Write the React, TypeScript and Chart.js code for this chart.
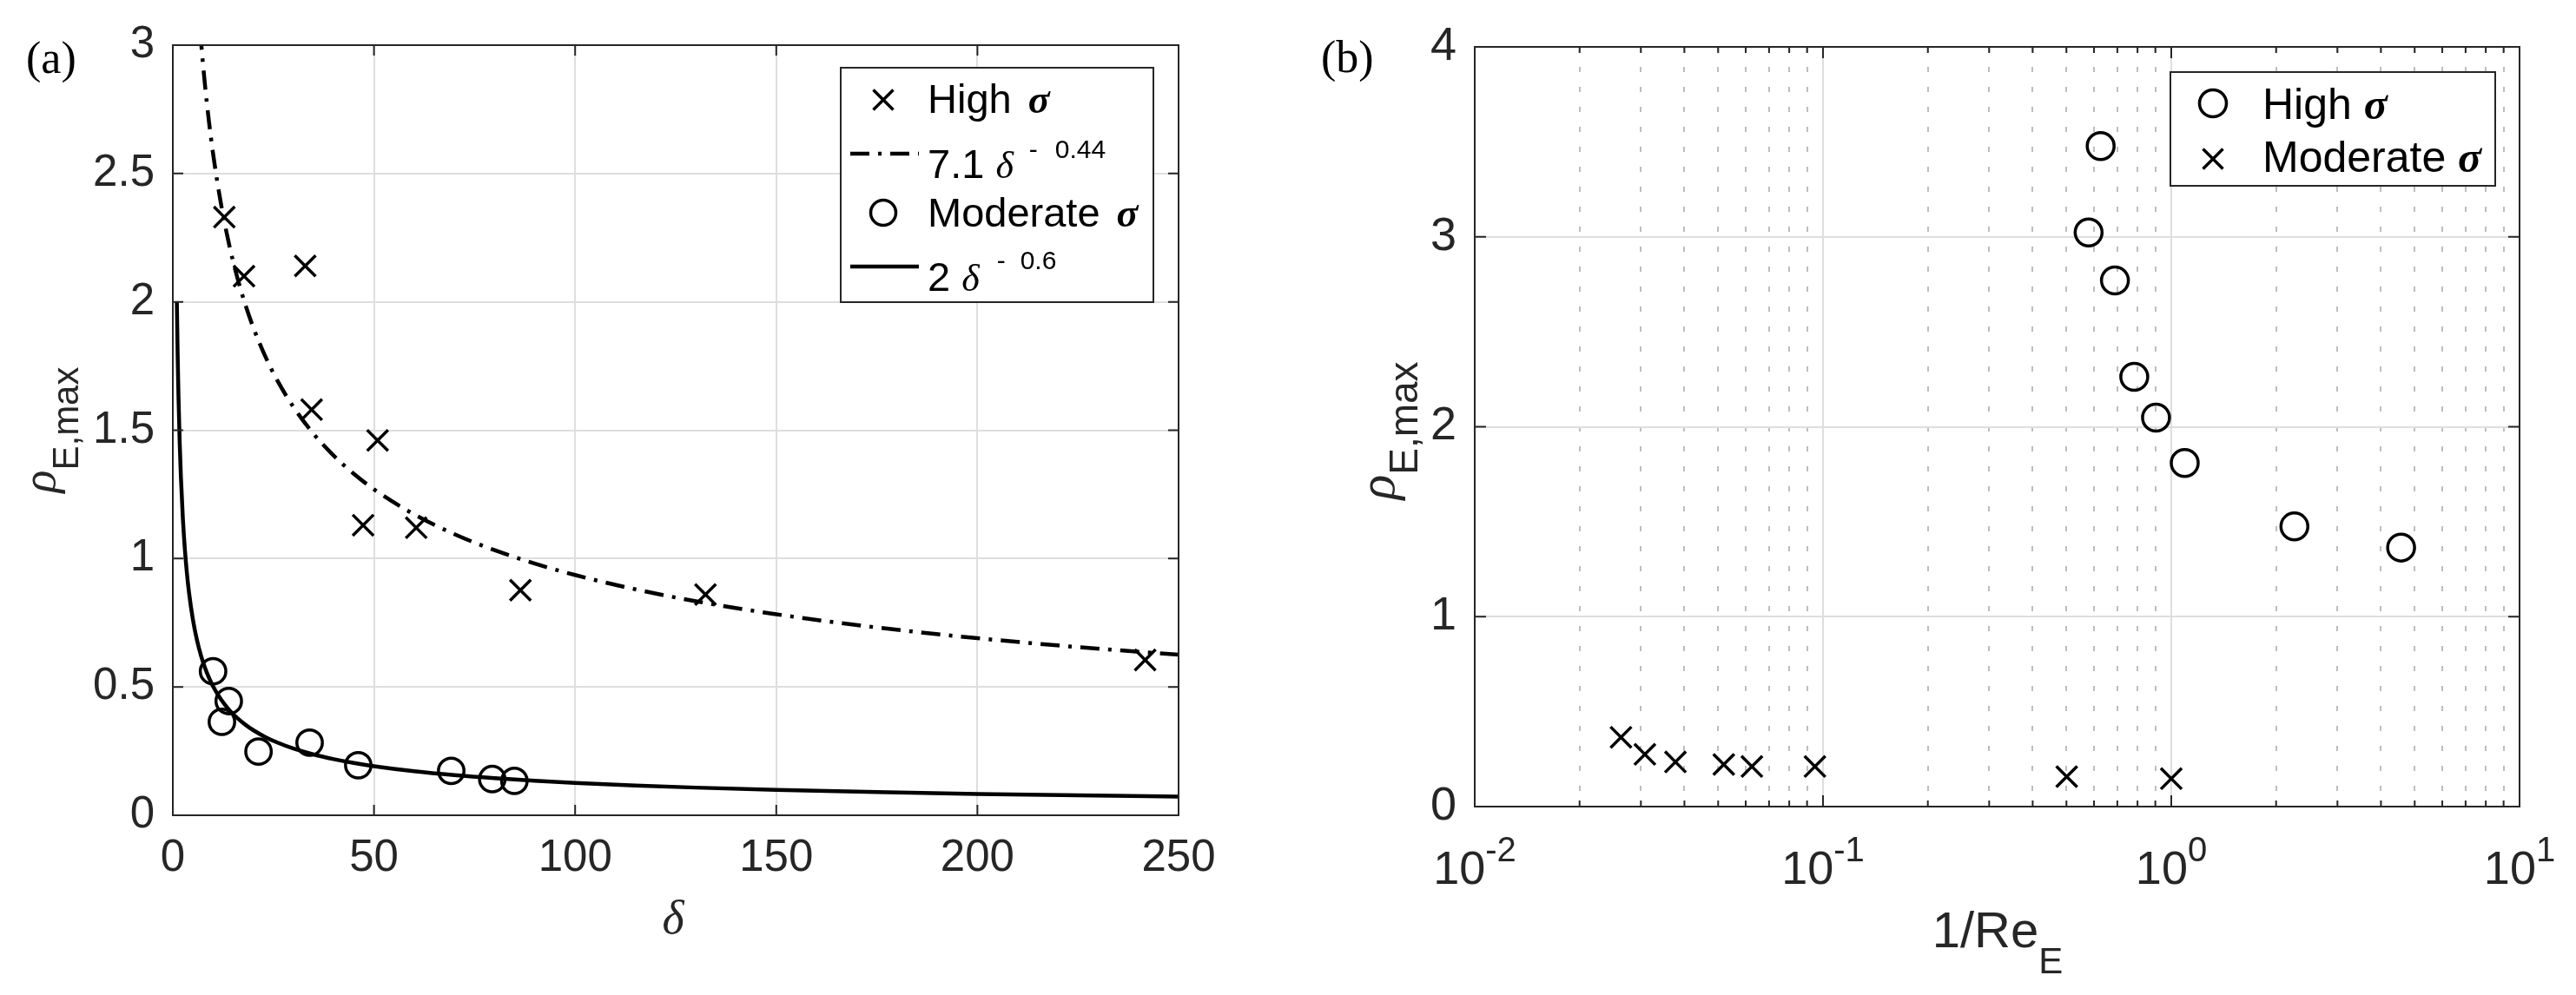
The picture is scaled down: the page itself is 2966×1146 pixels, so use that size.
import { useEffect, useRef } from "react";
import { Chart, registerables } from "chart.js";

Chart.register(...registerables);

const SANS = "'Liberation Sans', Arial, Helvetica, sans-serif";
const SERIF = "'Liberation Serif', 'Times New Roman', serif";
const AXIS_COLOR = "#262626";
const GRID_MAJOR = "#dedede";
const GRID_MINOR = "#bdbdbd";

// ---------------- Panel (a) data ----------------
const A_HIGH_DELTA = [12.8, 17.7, 32.9, 34.5, 50.9, 47.3, 60.5, 86.4, 132.4, 241.7];
const A_HIGH_RHO = [2.33, 2.1, 2.14, 1.58, 1.46, 1.13, 1.12, 0.877, 0.86, 0.605];
const A_MOD_DELTA = [10.0, 13.9, 12.2, 21.3, 34.0, 46.1, 69.2, 79.4, 84.9];
const A_MOD_RHO = [0.561, 0.445, 0.364, 0.248, 0.283, 0.195, 0.173, 0.141, 0.134];
// fitted power laws shown in the legend: a * delta^b
const FIT_HIGH_COEF = 7.1;
const FIT_HIGH_EXP = -0.44;
const FIT_MOD_COEF = 2;
const FIT_MOD_EXP = -0.6;
const FIT_DELTA = [1, 1.2, 1.4, 1.7, 2, 2.5, 3, 3.5, 4, 5, 6, 7, 8, 9, 10, 12, 14, 16, 18, 20, 23, 26, 30, 35, 40, 45, 50, 60, 70, 80, 90, 100, 115, 130, 150, 175, 200, 225, 250];
const A_X_TICKS = [0, 50, 100, 150, 200, 250];
const A_Y_TICKS = [0, 0.5, 1, 1.5, 2, 2.5, 3];

// ---------------- Panel (b) data ----------------
const B_HIGH_X = [0.579, 0.627, 0.689, 0.783, 0.904, 1.093, 2.257, 4.57];
const B_HIGH_RHO = [3.023, 3.478, 2.77, 2.263, 2.048, 1.809, 1.475, 1.364];
const B_MOD_X = [0.0263, 0.0308, 0.0377, 0.0519, 0.0625, 0.0948, 0.501, 1.0];
const B_MOD_RHO = [0.365, 0.275, 0.235, 0.222, 0.211, 0.211, 0.158, 0.147];
const B_DECADES = [0.01, 0.1, 1, 10];
const B_DECADE_EXPONENTS = ["-2", "-1", "0", "1"];
const B_MINOR_MULT = [2, 3, 4, 5, 6, 7, 8, 9];
const B_Y_TICKS = [0, 1, 2, 3, 4];

const B_X_TICKS: { v: number; major: boolean }[] = [];
B_DECADES.forEach((d, i) => {
  B_X_TICKS.push({ v: d, major: true });
  if (i < B_DECADES.length - 1) {
    B_MINOR_MULT.forEach((m) => B_X_TICKS.push({ v: +(d * m).toPrecision(3), major: false }));
  }
});

// ---------------- layout ----------------
const PAGE_H = 1146;
const A_CANVAS = { left: 0, width: 1460 };
const B_CANVAS = { left: 1460, width: 1506 };
const A_AREA = { left: 199, right: 1357, top: 52, bottom: 939 };
const B_AREA = { left: 1698, right: 2901, top: 54, bottom: 929 };

type Part = { t: string; f: string; dx?: number; dy?: number };

function rich(ctx: CanvasRenderingContext2D, x: number, y: number, parts: Part[], align: "left" | "center" = "left") {
  ctx.textAlign = "left";
  ctx.textBaseline = "alphabetic";
  let total = 0;
  for (const p of parts) {
    ctx.font = p.f;
    total += ctx.measureText(p.t).width + (p.dx || 0);
  }
  let cx = align === "center" ? x - total / 2 : x;
  for (const p of parts) {
    ctx.font = p.f;
    cx += p.dx || 0;
    ctx.fillText(p.t, cx, y + (p.dy || 0));
    cx += ctx.measureText(p.t).width;
  }
}

function drawX(ctx: CanvasRenderingContext2D, x: number, y: number, h: number, lw: number) {
  ctx.save();
  ctx.strokeStyle = "#000";
  ctx.lineWidth = lw;
  ctx.beginPath();
  ctx.moveTo(x - h, y - h);
  ctx.lineTo(x + h, y + h);
  ctx.moveTo(x + h, y - h);
  ctx.lineTo(x - h, y + h);
  ctx.stroke();
  ctx.restore();
}

function drawO(ctx: CanvasRenderingContext2D, x: number, y: number, r: number, lw: number) {
  ctx.save();
  ctx.strokeStyle = "#000";
  ctx.lineWidth = lw;
  ctx.beginPath();
  ctx.arc(x, y, r, 0, Math.PI * 2);
  ctx.stroke();
  ctx.restore();
}

function framePlugin(xTicks: { v: number; major: boolean }[], yTicks: number[], majorLen: number, minorLen: number) {
  return {
    id: "matlabFrame",
    afterDatasetsDraw(chart: any) {
      const { ctx, chartArea: a, scales } = chart;
      ctx.save();
      ctx.strokeStyle = AXIS_COLOR;
      ctx.lineWidth = 2;
      ctx.beginPath();
      for (const t of xTicks) {
        const px = scales.x.getPixelForValue(t.v);
        const L = t.major ? majorLen : minorLen;
        ctx.moveTo(px, a.bottom);
        ctx.lineTo(px, a.bottom - L);
        ctx.moveTo(px, a.top);
        ctx.lineTo(px, a.top + L);
      }
      for (const v of yTicks) {
        const py = scales.y.getPixelForValue(v);
        ctx.moveTo(a.left, py);
        ctx.lineTo(a.left + majorLen, py);
        ctx.moveTo(a.right, py);
        ctx.lineTo(a.right - majorLen, py);
      }
      ctx.stroke();
      ctx.strokeRect(a.left, a.top, a.right - a.left, a.bottom - a.top);
      ctx.restore();
    },
  };
}

const textPluginA = {
  id: "textA",
  afterDraw(chart: any) {
    const ctx: CanvasRenderingContext2D = chart.ctx;
    const o = A_CANVAS.left;
    ctx.save();
    ctx.fillStyle = "#000";
    // panel tag
    rich(ctx, 30 - o, 84, [{ t: "(a)", f: `52px ${SERIF}` }]);
    // x label
    ctx.fillStyle = AXIS_COLOR;
    rich(ctx, 775 - o, 1075, [{ t: "δ", f: `italic 54px ${SERIF}` }], "center");
    // y label
    ctx.save();
    ctx.translate(63 - o, 495);
    ctx.rotate(-Math.PI / 2);
    rich(ctx, 0, 0, [
      { t: "ρ", f: `italic 54px ${SERIF}` },
      { t: "E,max", f: `42px ${SANS}`, dy: 27 },
    ], "center");
    ctx.restore();

    // legend
    ctx.fillStyle = "#fff";
    ctx.fillRect(968 - o, 78, 360, 270);
    ctx.strokeStyle = AXIS_COLOR;
    ctx.lineWidth = 2;
    ctx.strokeRect(968 - o, 78, 360, 270);
    ctx.fillStyle = "#000";
    drawX(ctx, 1017 - o, 115, 11.5, 3.5);
    ctx.save();
    ctx.strokeStyle = "#000";
    ctx.lineWidth = 4.5;
    ctx.setLineDash([22, 10, 4, 10]);
    ctx.beginPath();
    ctx.moveTo(979 - o, 177);
    ctx.lineTo(1058 - o, 177);
    ctx.stroke();
    ctx.setLineDash([]);
    ctx.beginPath();
    ctx.moveTo(979 - o, 307);
    ctx.lineTo(1058 - o, 307);
    ctx.stroke();
    ctx.restore();
    drawO(ctx, 1017 - o, 245, 14.5, 3.5);

    const main = `47px ${SANS}`;
    const sup = `30px ${SANS}`;
    const sig = `bold italic 46px ${SERIF}`;
    const del = `italic 44px ${SERIF}`;
    rich(ctx, 1068 - o, 130, [{ t: "High ", f: main }, { t: "σ", f: sig, dx: 6 }]);
    rich(ctx, 1068 - o, 205, [
      { t: "7.1 ", f: main },
      { t: "δ", f: del },
      { t: "-", f: sup, dx: 18, dy: -23 },
      { t: "0.44", f: sup, dx: 20, dy: -23 },
    ]);
    rich(ctx, 1068 - o, 261, [{ t: "Moderate ", f: main }, { t: "σ", f: sig, dx: 6 }]);
    rich(ctx, 1068 - o, 335, [
      { t: "2 ", f: main },
      { t: "δ", f: del },
      { t: "-", f: sup, dx: 20, dy: -25 },
      { t: "0.6", f: sup, dx: 17, dy: -25 },
    ]);
    ctx.restore();
  },
};

const textPluginB = {
  id: "textB",
  afterDraw(chart: any) {
    const ctx: CanvasRenderingContext2D = chart.ctx;
    const o = B_CANVAS.left;
    const xs = chart.scales.x;
    ctx.save();
    ctx.fillStyle = "#000";
    rich(ctx, 1521 - o, 83, [{ t: "(b)", f: `52px ${SERIF}` }]);
    ctx.fillStyle = AXIS_COLOR;
    // x tick labels 10^n
    B_DECADES.forEach((d, i) => {
      const px = xs.getPixelForValue(d);
      rich(ctx, px, 1018, [
        { t: "10", f: `54px ${SANS}` },
        { t: B_DECADE_EXPONENTS[i], f: `40px ${SANS}`, dy: -26 },
      ], "center");
    });
    // x label
    rich(ctx, 2300 - o, 1091, [
      { t: "1/Re", f: `58px ${SANS}` },
      { t: "E", f: `42px ${SANS}`, dy: 30 },
    ], "center");
    // y label
    ctx.save();
    ctx.translate(1605 - o, 496);
    ctx.rotate(-Math.PI / 2);
    rich(ctx, 0, 0, [
      { t: "ρ", f: `italic 60px ${SERIF}` },
      { t: "E,max", f: `46px ${SANS}`, dy: 27 },
    ], "center");
    ctx.restore();

    // legend
    ctx.fillStyle = "#fff";
    ctx.fillRect(2499 - o, 83, 374, 131);
    ctx.strokeStyle = AXIS_COLOR;
    ctx.lineWidth = 2;
    ctx.strokeRect(2499 - o, 83, 374, 131);
    ctx.fillStyle = "#000";
    drawO(ctx, 2548 - o, 119, 15.5, 3.5);
    drawX(ctx, 2548 - o, 183, 11.5, 3.5);
    const main = `50px ${SANS}`;
    const sig = `bold italic 50px ${SERIF}`;
    rich(ctx, 2605 - o, 137, [{ t: "High ", f: main }, { t: "σ", f: sig }]);
    rich(ctx, 2605 - o, 198, [{ t: "Moderate ", f: main }, { t: "σ", f: sig }]);
    ctx.restore();
  },
};

function pts(xs: number[], ys: number[]) {
  return xs.map((x, i) => ({ x, y: ys[i] }));
}

export default function App() {
  const refA = useRef<HTMLCanvasElement>(null);
  const refB = useRef<HTMLCanvasElement>(null);

  useEffect(() => {
    if (!refA.current || !refB.current) return;
    const crossStyle = {
      showLine: false,
      pointStyle: "crossRot",
      pointRadius: 17,
      pointBorderWidth: 3.5,
      pointBorderColor: "#000",
      pointBackgroundColor: "rgba(0,0,0,0)",
    };
    const circleStyle = {
      showLine: false,
      pointStyle: "circle",
      pointRadius: 14.7,
      pointBorderWidth: 3.5,
      pointBorderColor: "#000",
      pointBackgroundColor: "rgba(0,0,0,0)",
    };
    const fitStyle = {
      showLine: true,
      pointRadius: 0,
      borderColor: "#000",
      borderWidth: 4.5,
      cubicInterpolationMode: "monotone",
      fill: false,
    };

    const chartA = new Chart(refA.current, {
      type: "scatter",
      data: {
        datasets: [
          { label: "High σ", data: pts(A_HIGH_DELTA, A_HIGH_RHO), ...crossStyle } as any,
          {
            label: "7.1 δ^-0.44",
            data: FIT_DELTA.map((x) => ({ x, y: FIT_HIGH_COEF * Math.pow(x, FIT_HIGH_EXP) })),
            ...fitStyle,
            borderDash: [22, 10, 4, 10],
          } as any,
          { label: "Moderate σ", data: pts(A_MOD_DELTA, A_MOD_RHO), ...circleStyle } as any,
          {
            label: "2 δ^-0.6",
            data: FIT_DELTA.map((x) => ({ x, y: FIT_MOD_COEF * Math.pow(x, FIT_MOD_EXP) })),
            ...fitStyle,
          } as any,
        ],
      },
      options: {
        responsive: false,
        animation: false,
        devicePixelRatio: 1,
        events: [],
        layout: { padding: { left: 0, top: A_AREA.top, right: A_CANVAS.width - (A_AREA.right - A_CANVAS.left), bottom: 0 } },
        plugins: { legend: { display: false }, tooltip: { enabled: false } },
        scales: {
          x: {
            type: "linear",
            position: "bottom",
            min: 0,
            max: 250,
            afterBuildTicks: (s: any) => {
              s.ticks = A_X_TICKS.map((v) => ({ value: v }));
            },
            afterFit: (s: any) => {
              s.height = PAGE_H - A_AREA.bottom;
            },
            grid: { color: GRID_MAJOR, lineWidth: 2, drawTicks: false },
            border: { display: false },
            ticks: {
              font: { family: SANS, size: 51 },
              color: AXIS_COLOR,
              padding: 19,
              maxRotation: 0,
              autoSkip: false,
              callback: (v: any) => String(v),
            },
          },
          y: {
            type: "linear",
            position: "left",
            min: 0,
            max: 3,
            afterBuildTicks: (s: any) => {
              s.ticks = A_Y_TICKS.map((v) => ({ value: v }));
            },
            afterFit: (s: any) => {
              s.width = A_AREA.left - A_CANVAS.left;
            },
            grid: { color: GRID_MAJOR, lineWidth: 2, drawTicks: false },
            border: { display: false },
            ticks: {
              font: { family: SANS, size: 51 },
              color: AXIS_COLOR,
              padding: 21,
              autoSkip: false,
              callback: (v: any) => String(v),
            },
          },
        },
      } as any,
      plugins: [framePlugin(A_X_TICKS.map((v) => ({ v, major: true })), A_Y_TICKS, 12, 7), textPluginA],
    });

    const chartB = new Chart(refB.current, {
      type: "scatter",
      data: {
        datasets: [
          { label: "High σ", data: pts(B_HIGH_X, B_HIGH_RHO), ...circleStyle, pointRadius: 15.5 } as any,
          { label: "Moderate σ", data: pts(B_MOD_X, B_MOD_RHO), ...crossStyle, pointRadius: 17 } as any,
        ],
      },
      options: {
        responsive: false,
        animation: false,
        devicePixelRatio: 1,
        events: [],
        layout: { padding: { left: 0, top: B_AREA.top, right: B_CANVAS.width - (B_AREA.right - B_CANVAS.left), bottom: 0 } },
        plugins: { legend: { display: false }, tooltip: { enabled: false } },
        scales: {
          x: {
            type: "logarithmic",
            position: "bottom",
            min: 0.01,
            max: 10,
            afterBuildTicks: (s: any) => {
              s.ticks = B_X_TICKS.map((t) => ({ value: t.v, major: t.major }));
            },
            afterFit: (s: any) => {
              s.height = PAGE_H - B_AREA.bottom;
            },
            grid: {
              color: (c: any) => (c.tick && c.tick.major ? GRID_MAJOR : GRID_MINOR),
              lineWidth: 2,
              drawTicks: false,
            },
            border: {
              display: false,
              dash: (c: any) => (c.tick && !c.tick.major ? [6, 17] : []),
            },
            ticks: { display: false, autoSkip: false },
          },
          y: {
            type: "linear",
            position: "left",
            min: 0,
            max: 4,
            afterBuildTicks: (s: any) => {
              s.ticks = B_Y_TICKS.map((v) => ({ value: v }));
            },
            afterFit: (s: any) => {
              s.width = B_AREA.left - B_CANVAS.left;
            },
            grid: { color: GRID_MAJOR, lineWidth: 2, drawTicks: false },
            border: { display: false },
            ticks: {
              font: { family: SANS, size: 54 },
              color: AXIS_COLOR,
              padding: 21,
              autoSkip: false,
              callback: (v: any) => String(v),
            },
          },
        },
      } as any,
      plugins: [framePlugin(B_X_TICKS, B_Y_TICKS, 13, 7), textPluginB],
    });

    return () => {
      chartA.destroy();
      chartB.destroy();
    };
  }, []);

  return (
    <div style={{ position: "absolute", left: 0, top: 0, width: 2966, height: PAGE_H, background: "#fff" }}>
      <canvas
        ref={refA}
        width={A_CANVAS.width}
        height={PAGE_H}
        style={{ position: "absolute", left: A_CANVAS.left, top: 0, width: A_CANVAS.width, height: PAGE_H }}
      />
      <canvas
        ref={refB}
        width={B_CANVAS.width}
        height={PAGE_H}
        style={{ position: "absolute", left: B_CANVAS.left, top: 0, width: B_CANVAS.width, height: PAGE_H }}
      />
    </div>
  );
}
